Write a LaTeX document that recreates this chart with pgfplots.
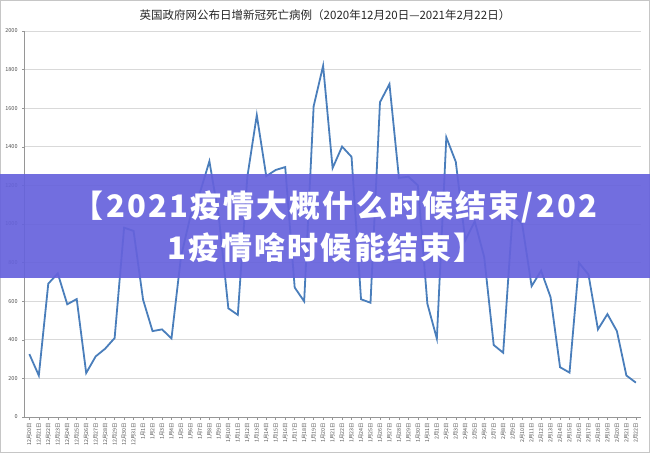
\documentclass[border=0pt]{standalone}
\usepackage{fontspec}
\setmainfont{Noto Sans CJK SC}
\usepackage{pgfplots}
\pgfplotsset{compat=1.18}
\usepackage{pgfplotstable}

\definecolor{lineblue}{RGB}{74,126,187}
\definecolor{gridgray}{RGB}{217,217,217}
\definecolor{axisgray}{RGB}{150,150,150}
\definecolor{labelgray}{RGB}{80,80,80}
\definecolor{banner}{RGB}{102,98,220}

% daily deaths, 2020-12-20 .. 2021-02-22
\pgfplotstableread{
day deaths
0 326
1 215
2 691
3 744
4 584
5 611
6 228
7 314
8 354
9 409
10 981
11 964
12 608
13 445
14 454
15 407
16 830
17 1041
18 1162
19 1325
20 1035
21 563
22 529
23 1243
24 1564
25 1248
26 1280
27 1295
28 671
29 599
30 1610
31 1820
32 1290
33 1401
34 1348
35 610
36 592
37 1631
38 1725
39 1239
40 1245
41 1200
42 587
43 406
44 1449
45 1322
46 915
47 1014
48 828
49 373
50 333
51 1052
52 1001
53 678
54 758
55 621
56 258
57 230
58 799
59 738
60 454
61 533
62 445
63 215
64 178
}\deaths

\begin{document}
\begin{tikzpicture}
\useasboundingbox (0,0) rectangle (650bp,453bp);
\draw[gray!45, line width=0.8bp] (0.4bp,0.4bp) rectangle (649.6bp,452.6bp);

\begin{axis}[
    at={(24.6bp,36bp)}, anchor=south west,
    scale only axis,
    width=616bp, height=386bp,
    xmin=-0.5, xmax=64.5,
    ymin=0, ymax=2000,
    ytick={0,200,...,2000},
    xtick={0,...,64},
    xticklabels={12月20日,12月21日,12月22日,12月23日,12月24日,12月25日,12月26日,12月27日,12月28日,12月29日,12月30日,12月31日,
      1月1日,1月2日,1月3日,1月4日,1月5日,1月6日,1月7日,1月8日,1月9日,1月10日,1月11日,1月12日,1月13日,1月14日,1月15日,1月16日,
      1月17日,1月18日,1月19日,1月20日,1月21日,1月22日,1月23日,1月24日,1月25日,1月26日,1月27日,1月28日,1月29日,1月30日,1月31日,
      2月1日,2月2日,2月3日,2月4日,2月5日,2月6日,2月7日,2月8日,2月9日,2月10日,2月11日,2月12日,2月13日,2月14日,2月15日,2月16日,
      2月17日,2月18日,2月19日,2月20日,2月21日,2月22日},
    axis x line*=bottom,
    axis y line*=left,
    axis line style={axisgray, line width=0.6bp},
    ymajorgrids,
    grid style={gridgray, line width=0.8bp},
    tick style={axisgray, line width=0.5bp},
    major tick length=2.5bp,
    tick align=outside,
    /pgf/number format/assume math mode=true,
    /pgf/number format/1000 sep={},
    yticklabel style={font=\fontsize{5.5bp}{6bp}\selectfont, text=labelgray, xshift=-1bp},
    xticklabel style={font=\fontsize{5.3bp}{6bp}\selectfont, text=labelgray, rotate=90, anchor=east, xshift=0bp},
    clip=false,
]
\addplot[lineblue, line width=1.8bp, mark=none] table[x=day, y=deaths] {\deaths};
\end{axis}

% title
\node[font=\fontsize{11.5bp}{13bp}\selectfont, text=black!85] at (325bp,438bp)
  {英国政府网公布日增新冠死亡病例（2020年12月20日—2021年2月22日）};

% banner overlay
\fill[banner, fill opacity=0.92] (0,175bp) rectangle (650bp,279bp);
\node[font=\fontsize{31bp}{32bp}\selectfont\bfseries\addfontfeature{LetterSpace=7}, text=white] at (335bp,246bp)
  {【2021疫情大概什么时候结束/202};
\node[font=\fontsize{31bp}{32bp}\selectfont\bfseries\addfontfeature{LetterSpace=7}, text=white] at (326bp,205bp)
  {1疫情啥时候能结束】};
\end{tikzpicture}
\end{document}
